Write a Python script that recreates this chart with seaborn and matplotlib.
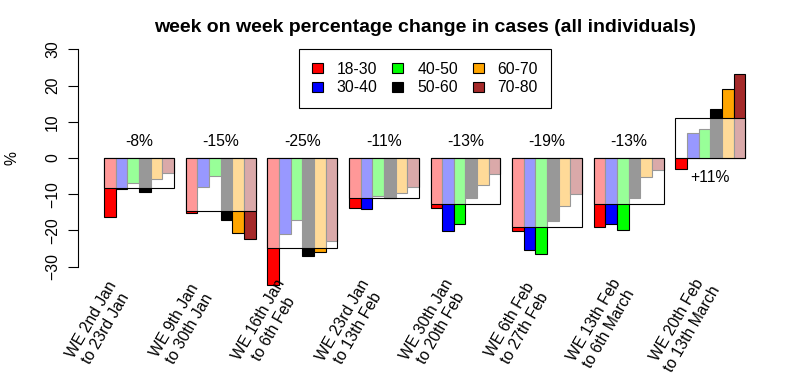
import numpy as np
import pandas as pd
import matplotlib
matplotlib.use("Agg")
import matplotlib.pyplot as plt
from matplotlib.patches import Patch
import seaborn as sns


# the data

weeks = ["WE 2nd Jan\nto 23rd Jan", "WE 9th Jan\nto 30th Jan", "WE 16th Jan\nto 6th Feb",
         "WE 23rd Jan\nto 13th Feb", "WE 30th Jan\nto 20th Feb", "WE 6th Feb\nto 27th Feb",
         "WE 13th Feb\nto 6th March", "WE 20th Feb\nto 13th March"]
ages   = ["18-30", "30-40", "40-50", "50-60", "60-70", "70-80"]
colors = ["red", "blue", "#00ff00", "black", "orange", "brown"]

age_18_30 = [-16.3, -15.3, -35.0, -13.7, -13.9, -20.1, -19.0, -3.1]
age_30_40 = [-8.6, -7.9, -21.1, -14.0, -20.2, -25.5, -18.1, 6.9]
age_40_50 = [-7.0, -5.0, -17.1, -10.4, -18.3, -26.5, -20.0, 7.9]
age_50_60 = [-9.3, -17.1, -27.0, -11.1, -10.9, -17.4, -10.9, 13.4]
age_60_70 = [-5.9, -20.6, -25.9, -9.7, -7.5, -13.3, -5.2, 19.0]
age_70_80 = [-4.0, -22.4, -22.8, -7.9, -4.4, -9.9, -3.2, 23.1]

# change over all individuals
overall = [-8.4, -14.7, -24.8, -11.0, -12.6, -18.9, -12.7, 11.1]


def build_frame():
    series = [age_18_30, age_30_40, age_40_50, age_50_60, age_60_70, age_70_80]
    rows = []
    for age, vals in zip(ages, series):
        for week, v in zip(weeks, vals):
            rows.append({"week": week, "age": age, "change": v})
    return pd.DataFrame(rows)


df = build_frame()

sns.set_style("white")
plt.rcParams["font.family"] = ["Liberation Sans", "DejaVu Sans"]
plt.rcParams["text.color"] = "black"
plt.rcParams["axes.labelcolor"] = "black"
plt.rcParams["ytick.color"] = "black"
fs = 11.3

fig = plt.figure(figsize=(8.1, 3.82), dpi=100)
ax = fig.add_axes([0.0967, 0.279, 0.8552, 0.6147])

# 6 bars per week, one bar width of gap between weeks
sns.barplot(data=df, x="week", y="change", hue="age", hue_order=ages, palette=colors,
            width=6 / 7, gap=0, saturation=1, errorbar=None, edgecolor="black",
            linewidth=0.8, legend=False, ax=ax)

# white see-through box from 0 to the overall change
ax.bar(np.arange(len(weeks)), overall, width=6 / 7, color=(1, 1, 1, 0.6),
       edgecolor="black", linewidth=0.8)

for p in ax.patches:
    p.set_clip_on(False)

# percentage over / under each week
for i, v in enumerate(overall):
    ypos = 4.5 if v < 0 else -5.3
    ax.text(i, ypos, f"{v:+.0f}%", ha="center", va="center", fontsize=fs, color="black")

ax.set_xlim(-5.2 / 7, 7 + 5.2 / 7)
ax.set_ylim(-32.4, 32.4)
ax.set_xticks([])
ax.set_xlabel("")
ax.set_ylabel("")
ax.set_yticks([-30, -20, -10, 0, 10, 20, 30])
ax.tick_params(axis="y", left=True, length=7.2, width=0.8, pad=6, labelsize=fs,
               labelrotation=90, colors="black")
for lab in ax.get_yticklabels():
    lab.set_va("center")
for s in ["top", "right", "bottom"]:
    ax.spines[s].set_visible(False)
ax.spines["left"].set_bounds(-30, 30)
ax.spines["left"].set_linewidth(0.8)
ax.spines["left"].set_color("black")

# week labels under the bars
for i, w in enumerate(weeks):
    ax.text(-0.492 + i * 1.026, -45.9, w, rotation=60, rotation_mode="anchor",
            ha="center", va="center", multialignment="center", fontsize=fs,
            color="black", clip_on=False)

handles = [Patch(facecolor=c, edgecolor="black", linewidth=0.8) for c in colors]
leg = fig.legend(handles, ages, ncol=3, loc="upper left",
                 bbox_to_anchor=(299 / 810, 1 - 49 / 382), bbox_transform=fig.transFigure,
                 fontsize=fs, frameon=True, fancybox=False, framealpha=1, edgecolor="black",
                 handlelength=0.68, handleheight=0.62, handletextpad=0.9, columnspacing=0.95,
                 labelspacing=0.23, borderpad=0.82, borderaxespad=0)
leg.get_frame().set_linewidth(0.8)
for t in leg.get_texts():
    t.set_color("black")

fig.text(11.7 / 810, 1 - 158 / 382, "%", rotation=90, ha="center", va="center", fontsize=fs)
fig.text(424.7 / 810, 1 - 31.7 / 382, "week on week percentage change in cases (all individuals)",
         ha="center", va="baseline", fontsize=14, fontweight="bold")

fig.savefig("out.png", dpi=100)
